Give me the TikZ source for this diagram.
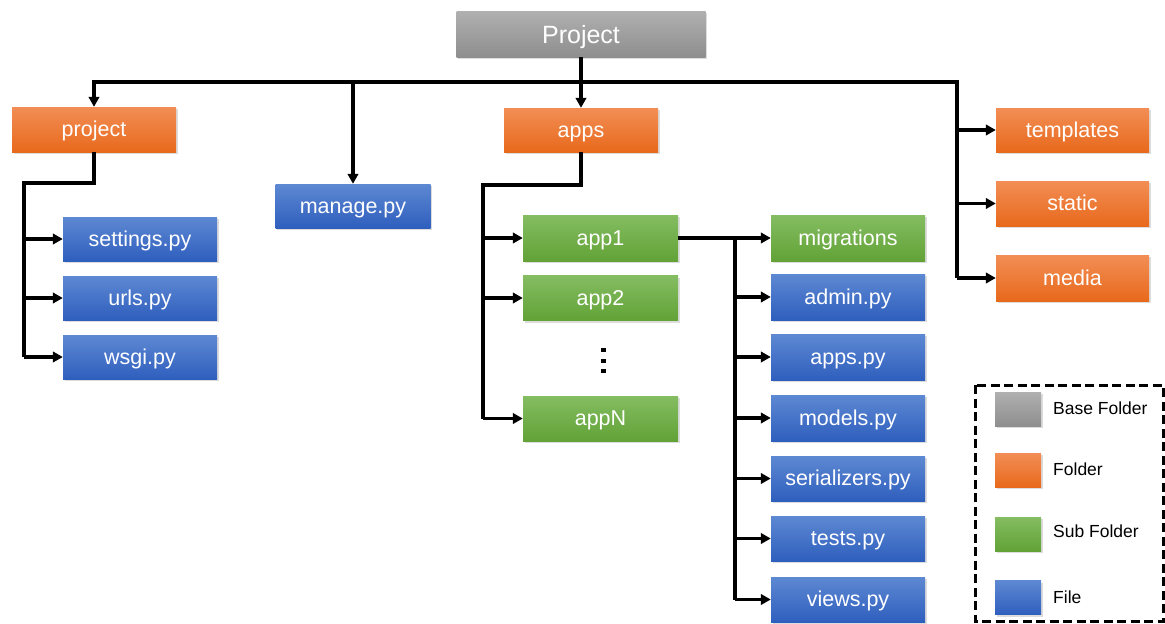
\documentclass[tikz,border=0pt]{standalone}
\usepackage{fontspec}
\setmainfont{Liberation Sans}
\usetikzlibrary{arrows.meta,shadows}

\definecolor{grayT}{HTML}{B0B0B0}
\definecolor{grayB}{HTML}{8E8E8E}
\definecolor{orT}{HTML}{F28E55}
\definecolor{orB}{HTML}{E8691C}
\definecolor{grT}{HTML}{84BD62}
\definecolor{grB}{HTML}{62A236}
\definecolor{blT}{HTML}{5D88D2}
\definecolor{blB}{HTML}{2F5FBE}

\tikzset{
  box/.style={rectangle, inner sep=0pt, text=white,
    font=\fontsize{21.5}{25}\selectfont, text height=18.6pt, text depth=4pt,
    drop shadow={opacity=0.28, shadow xshift=1.5pt, shadow yshift=-2pt}},
  basebox/.style={box, top color=grayT, bottom color=grayB,
    font=\fontsize{25}{29}\selectfont, text height=22pt, text depth=4pt},
  folderbox/.style={box, top color=orT, bottom color=orB},
  subbox/.style={box, top color=grT, bottom color=grB},
  filebox/.style={box, top color=blT, bottom color=blB},
  wire/.style={line width=3.4pt, black},
  arr/.style={wire, -{Triangle[length=10pt,width=10.5pt]}},
  legtext/.style={anchor=west, inner sep=0pt, font=\fontsize{17.5}{21}\selectfont}
}

\begin{document}
\begin{tikzpicture}[x=1pt,y=-1pt]
\useasboundingbox (0,0) rectangle (1165,624);

% top level
\node[basebox, minimum width=249pt, minimum height=46pt] (base) at (581,34) {Project};

% first level
\node[folderbox, minimum width=164pt, minimum height=45pt] (proj) at (94,129.5) {project};
\node[filebox, minimum width=155pt, minimum height=44pt] (manage) at (353,206) {manage.py};
\node[folderbox, minimum width=154pt, minimum height=44pt] (apps) at (581,130) {apps};
\node[folderbox, minimum width=153pt, minimum height=44pt] (templates) at (1072.5,130) {templates};
\node[folderbox, minimum width=153pt, minimum height=45pt] (static) at (1072.5,203.5) {static};
\node[folderbox, minimum width=153pt, minimum height=46pt] (media) at (1072.5,278) {media};

% project package
\node[filebox, minimum width=154pt, minimum height=44pt] (settings) at (140,239) {settings.py};
\node[filebox, minimum width=154pt, minimum height=44pt] (urls) at (140,298) {urls.py};
\node[filebox, minimum width=154pt, minimum height=44pt] (wsgi) at (140,357) {wsgi.py};

% apps
\node[subbox, minimum width=155pt, minimum height=46pt] (app1) at (600.5,238) {app1};
\node[subbox, minimum width=155pt, minimum height=45pt] (app2) at (600.5,298) {app2};
\node[subbox, minimum width=155pt, minimum height=45pt] (appN) at (600.5,418.5) {appN};

% contents of one app
\node[subbox, minimum width=154pt, minimum height=46pt] (migr) at (848,238) {migrations};
\node[filebox, minimum width=154pt, minimum height=46pt] (admin) at (848,297) {admin.py};
\node[filebox, minimum width=154pt, minimum height=46pt] (appspy) at (848,357) {apps.py};
\node[filebox, minimum width=154pt, minimum height=46pt] (models) at (848,418) {models.py};
\node[filebox, minimum width=154pt, minimum height=45pt] (serial) at (848,478.5) {serializers.py};
\node[filebox, minimum width=154pt, minimum height=45pt] (tests) at (848,538.5) {tests.py};
\node[filebox, minimum width=154pt, minimum height=45pt] (views) at (848,599.5) {views.py};

% vertical ellipsis between app2 and appN
\foreach \yy in {350,361,371}
  \fill (601,\yy-2.4) rectangle (605.8,\yy+2.4);

% main bus
\coordinate (busL) at (94,82);
\coordinate (busR) at (957,82);
\draw[wire] (base.south) -- (base.south |- busL);
\draw[wire, line cap=rect] (busL) -- (busR);
\draw[arr] (busL) -- (proj.north);
\draw[arr] (manage.north |- busL) -- (manage.north);
\draw[arr] (apps.north |- busL) -- (apps.north);
\draw[wire] (busR) -- (busR |- media.west);
\draw[arr] (busR |- templates.west) -- (templates.west);
\draw[arr] (busR |- static.west) -- (static.west);
\draw[arr] (busR |- media.west) -- (media.west);

% project package branch
\coordinate (pj) at (24,183);
\draw[wire] (proj.south) |- (pj) -- (pj |- wsgi.west);
\draw[arr] (pj |- settings.west) -- (settings.west);
\draw[arr] (pj |- urls.west) -- (urls.west);
\draw[arr] (pj |- wsgi.west) -- (wsgi.west);

% apps branch
\coordinate (aj) at (483,185);
\draw[wire] (apps.south) |- (aj) -- (aj |- appN.west);
\draw[arr] (aj |- app1.west) -- (app1.west);
\draw[arr] (aj |- app2.west) -- (app2.west);
\draw[arr] (aj |- appN.west) -- (appN.west);

% app contents branch
\coordinate (mj) at (735,238);
\draw[wire] (app1.east) -- (mj) -- (mj |- views.west);
\draw[arr] (mj |- migr.west) -- (migr.west);
\draw[arr] (mj |- admin.west) -- (admin.west);
\draw[arr] (mj |- appspy.west) -- (appspy.west);
\draw[arr] (mj |- models.west) -- (models.west);
\draw[arr] (mj |- serial.west) -- (serial.west);
\draw[arr] (mj |- tests.west) -- (tests.west);
\draw[arr] (mj |- views.west) -- (views.west);

% legend
\draw[line width=3pt, dash pattern=on 9pt off 4.5pt] (975,385) rectangle (1163,621);
\node[basebox, minimum width=46pt, minimum height=34pt] (lg1) at (1018,409) {};
\node[folderbox, minimum width=46pt, minimum height=34pt] (lg2) at (1018,470) {};
\node[subbox, minimum width=46pt, minimum height=34pt] (lg3) at (1018,534) {};
\node[filebox, minimum width=46pt, minimum height=34pt] (lg4) at (1018,597.5) {};
\node[legtext] (lt1) at (1053,408) {Base Folder};
\node[legtext] (lt2) at (1053,469) {Folder};
\node[legtext] (lt3) at (1053,531) {Sub Folder};
\node[legtext] (lt4) at (1053,597) {File};
\end{tikzpicture}
\end{document}
